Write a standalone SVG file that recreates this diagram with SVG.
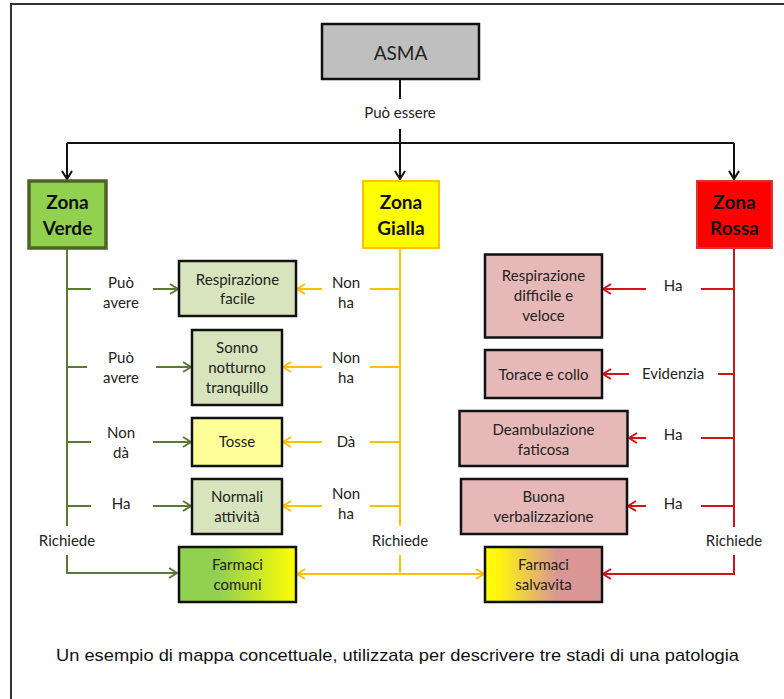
<svg xmlns="http://www.w3.org/2000/svg" width="784" height="699" viewBox="0 0 784 699">
<defs>
<style>
.t{font-family:Lato,"Open Sans","Liberation Sans",sans-serif;font-size:15px;fill:#222;text-anchor:middle}
.z{font-family:Lato,"Open Sans","Liberation Sans",sans-serif;font-size:19px;font-weight:bold;fill:#111;text-anchor:middle}
.box{stroke:#111;stroke-width:2.5}
.k{stroke:#111;stroke-width:2;fill:none}
.g{stroke:#5a7a36;stroke-width:2;fill:none}
.y{stroke:#ffc000;stroke-width:2;fill:none}
.r{stroke:#d01418;stroke-width:2;fill:none}
</style>
<marker id="ak" markerWidth="12" markerHeight="12" viewBox="0 0 12 12" refX="10" refY="6" orient="auto" markerUnits="userSpaceOnUse"><path d="M2,1 L10,6 L2,11" fill="none" stroke="#111" stroke-width="2"/></marker>
<marker id="ag" markerWidth="12" markerHeight="12" viewBox="0 0 12 12" refX="10" refY="6" orient="auto" markerUnits="userSpaceOnUse"><path d="M2,1 L10,6 L2,11" fill="none" stroke="#5a7a36" stroke-width="2"/></marker>
<marker id="ay" markerWidth="12" markerHeight="12" viewBox="0 0 12 12" refX="10" refY="6" orient="auto" markerUnits="userSpaceOnUse"><path d="M2,1 L10,6 L2,11" fill="none" stroke="#ffc000" stroke-width="2"/></marker>
<marker id="ar" markerWidth="12" markerHeight="12" viewBox="0 0 12 12" refX="10" refY="6" orient="auto" markerUnits="userSpaceOnUse"><path d="M2,1 L10,6 L2,11" fill="none" stroke="#d01418" stroke-width="2"/></marker>
<linearGradient id="gc" x1="0" x2="1" y1="0" y2="0"><stop offset="0" stop-color="#92d050"/><stop offset="0.35" stop-color="#92d050"/><stop offset="1" stop-color="#ffff00"/></linearGradient>
<linearGradient id="gs" x1="0" x2="1" y1="0" y2="0"><stop offset="0" stop-color="#ffff00"/><stop offset="0.12" stop-color="#fcf510"/><stop offset="0.62" stop-color="#d99694"/><stop offset="1" stop-color="#d99694"/></linearGradient>
</defs>
<rect width="784" height="699" fill="#ffffff"/>
<path d="M11,699 V4 H784" fill="none" stroke="#333" stroke-width="2"/>

<g id="connectors">
<path class="k" d="M400,79 V99"/>
<path class="k" d="M400,129 V179" marker-end="url(#ak)"/>
<path class="k" d="M67,143 H734"/>
<path class="k" d="M67,143 V179" marker-end="url(#ak)"/>
<path class="k" d="M734,143 V179" marker-end="url(#ak)"/>

<path class="g" d="M67,249 V526"/>
<path class="g" d="M67,289 H91 M67,367 H87 M67,442 H91 M67,506 H91"/>
<path class="g" d="M153,289 H178" marker-end="url(#ag)"/>
<path class="g" d="M156,367 H191" marker-end="url(#ag)"/>
<path class="g" d="M153,442 H191" marker-end="url(#ag)"/>
<path class="g" d="M153,506 H191" marker-end="url(#ag)"/>
<path class="g" d="M67,555 V573 H177" marker-end="url(#ag)"/>

<path class="y" d="M400,249 V526"/>
<path class="y" d="M400,289 H370 M400,367 H370 M400,442 H370 M400,506 H370"/>
<path class="y" d="M322,289 H297" marker-end="url(#ay)"/>
<path class="y" d="M322,367 H283" marker-end="url(#ay)"/>
<path class="y" d="M322,442 H283" marker-end="url(#ay)"/>
<path class="y" d="M322,506 H283" marker-end="url(#ay)"/>
<path class="y" d="M400,555 V574"/>
<path class="y" d="M400,574 H297" marker-end="url(#ay)"/>
<path class="y" d="M400,574 H484" marker-end="url(#ay)"/>

<path class="r" d="M734,249 V527"/>
<path class="r" d="M734,289 H701 M734,374 H718 M734,438 H701 M734,506 H701"/>
<path class="r" d="M646,289 H603" marker-end="url(#ar)"/>
<path class="r" d="M629,374 H603" marker-end="url(#ar)"/>
<path class="r" d="M646,438 H629" marker-end="url(#ar)"/>
<path class="r" d="M646,506 H628" marker-end="url(#ar)"/>
<path class="r" d="M734,555 V574 H603" marker-end="url(#ar)"/>

<g id="labels">
<text class="t" x="400" y="118">Può essere</text>
<text class="t" x="121" y="288">Può</text><text class="t" x="121" y="308">avere</text>
<text class="t" x="121" y="363">Può</text><text class="t" x="121" y="383">avere</text>
<text class="t" x="121" y="438">Non</text><text class="t" x="121" y="458">dà</text>
<text class="t" x="121" y="509">Ha</text>
<text class="t" x="346" y="288">Non</text><text class="t" x="346" y="308">ha</text>
<text class="t" x="346" y="363">Non</text><text class="t" x="346" y="383">ha</text>
<text class="t" x="346" y="447">Dà</text>
<text class="t" x="346" y="499">Non</text><text class="t" x="346" y="519">ha</text>
<text class="t" x="673" y="291">Ha</text>
<text class="t" x="673" y="379">Evidenzia</text>
<text class="t" x="673" y="440">Ha</text>
<text class="t" x="673" y="509">Ha</text>
<text class="t" x="67" y="546">Richiede</text>
<text class="t" x="400" y="546">Richiede</text>
<text class="t" x="734" y="546">Richiede</text>
</g>
</g>

<g id="asma">
<rect class="box" x="322" y="24" width="157" height="55" fill="#bfbfbf"/>
<text class="t" x="400.5" y="60" style="font-size:19px">ASMA</text>
</g>

<g id="zona-verde">
<rect x="29" y="181" width="77" height="67" fill="#92d050" stroke="#4f6228" stroke-width="3.5"/>
<text class="z" x="67.5" y="208.5">Zona</text><text class="z" x="67.5" y="234.5">Verde</text>
</g>
<g id="zona-gialla">
<rect x="363" y="181" width="76" height="67" fill="#ffff00" stroke="#ffc000" stroke-width="2"/>
<text class="z" x="401" y="208.5">Zona</text><text class="z" x="401" y="234.5">Gialla</text>
</g>
<g id="zona-rossa">
<rect x="697" y="181" width="75" height="67" fill="#ff0000" stroke="#e03030" stroke-width="2"/>
<text class="z" x="734.5" y="208.5">Zona</text><text class="z" x="734.5" y="234.5">Rossa</text>
</g>

<g id="respirazione-facile">
<rect class="box" x="179" y="261" width="117" height="55" fill="#d7e4bd"/>
<text class="t" x="237.5" y="285">Respirazione</text><text class="t" x="237.5" y="304">facile</text>
</g>
<g id="sonno">
<rect class="box" x="192" y="330" width="90" height="75" fill="#d7e4bd"/>
<text class="t" x="237" y="353">Sonno</text><text class="t" x="237" y="373">notturno</text><text class="t" x="237" y="393">tranquillo</text>
</g>
<g id="tosse">
<rect class="box" x="192" y="418" width="90" height="48" fill="#ffff99"/>
<text class="t" x="237" y="447">Tosse</text>
</g>
<g id="normali-attivita">
<rect class="box" x="192" y="479" width="90" height="55" fill="#d7e4bd"/>
<text class="t" x="237" y="502">Normali</text><text class="t" x="237" y="522">attività</text>
</g>
<g id="farmaci-comuni">
<rect class="box" x="179" y="547" width="117" height="55" fill="url(#gc)"/>
<text class="t" x="237.5" y="570">Farmaci</text><text class="t" x="237.5" y="590">comuni</text>
</g>

<g id="respirazione-difficile">
<rect class="box" x="485" y="254.5" width="117" height="83" fill="#e6b9b8"/>
<text class="t" x="543.5" y="281">Respirazione</text><text class="t" x="543.5" y="301">difficile e</text><text class="t" x="543.5" y="321">veloce</text>
</g>
<g id="torace">
<rect class="box" x="485" y="350" width="117" height="48" fill="#e6b9b8"/>
<text class="t" x="543.5" y="380">Torace e collo</text>
</g>
<g id="deambulazione">
<rect class="box" x="459.5" y="411" width="168" height="55" fill="#e6b9b8"/>
<text class="t" x="543.5" y="435">Deambulazione</text><text class="t" x="543.5" y="454.5">faticosa</text>
</g>
<g id="verbalizzazione">
<rect class="box" x="461" y="479" width="166" height="55" fill="#e6b9b8"/>
<text class="t" x="543.5" y="502">Buona</text><text class="t" x="543.5" y="522">verbalizzazione</text>
</g>
<g id="farmaci-salvavita">
<rect class="box" x="485" y="547" width="117" height="55" fill="url(#gs)"/>
<text class="t" x="543.5" y="570">Farmaci</text><text class="t" x="543.5" y="590">salvavita</text>
</g>

<text x="397.5" y="661" style="font-family:'Liberation Sans',Arial,sans-serif;font-size:17px;fill:#111;text-anchor:middle" textLength="683" lengthAdjust="spacingAndGlyphs">Un esempio di mappa concettuale, utilizzata per descrivere tre stadi di una patologia</text>
</svg>
